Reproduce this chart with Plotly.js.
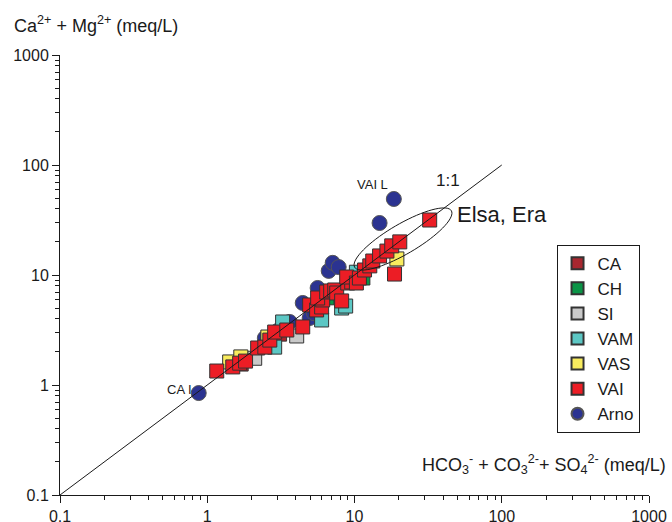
<!DOCTYPE html>
<html>
<head>
<meta charset="utf-8">
<script src="https://cdn.plot.ly/plotly-3.0.1.min.js"></script>
<style>html,body{margin:0;padding:0;background:#fff;}#chart{width:672px;height:522px;}</style>
</head>
<body>
<div id="chart"></div>
<script>
// ---- data (meq/L) ----
var groups = ["CA", "CH", "SI", "VAM", "VAS", "VAI", "Arno"];

var caX = [1.70, 3.10, 7.20];
var caY = [1.55, 2.90, 6.60];

var chX = [6.50, 11.4];
var chY = [6.20, 9.39];

var siX = [2.10, 4.05];
var siY = [1.75, 2.79];

var vamX = [2.87, 3.25, 5.98, 8.18, 8.71, 10.3];
var vamY = [2.21, 3.74, 3.90, 5.01, 5.22, 10.6];

var vasX = [1.42, 1.69, 2.58, 19.4];
var vasY = [1.62, 1.80, 2.73, 14.0];

var vaiX = [1.16, 1.49, 1.66, 1.82, 2.20, 2.46, 2.66, 2.87, 3.47, 4.45, 4.96, 5.53, 5.98, 6.08, 5.62, 6.47,
            6.89, 7.34, 7.57, 8.18, 8.99, 9.57, 8.85, 10.3, 10.8, 11.7, 12.7, 13.3, 14.8, 16.6, 17.9, 20.3, 32.4, 18.7];
var vaiY = [1.34, 1.46, 1.58, 1.65, 2.17, 2.21, 2.56, 3.03, 3.16, 3.37, 5.34, 4.81, 5.12, 5.93, 6.18, 7.00,
            7.16, 7.31, 6.86, 5.81, 8.46, 8.64, 9.59, 8.46, 9.39, 11.1, 12.1, 13.4, 14.9, 16.5, 18.4, 20.0, 31.6, 10.2];

var arnoX = [0.875, 2.46, 3.00, 3.63, 4.45, 4.96, 5.30, 5.62, 6.68, 7.11, 7.81, 14.8, 18.5];
var arnoY = [0.845, 2.67, 3.10, 3.74, 5.57, 4.06, 4.50, 7.62, 10.9, 12.9, 11.8, 29.7, 49.1];

var lineX = [0.1, 100];
var lineY = [0.1, 100];

var tickVals = [0.1, 1, 10, 100, 1000];
var tickText = ["0.1", "1", "10", "100", "1000"];

// ---- styles ----
var colors = {CA: "#A8272F", CH: "#0A9446", SI: "#C9C9C9", VAM: "#5CC7C4", VAS: "#F9EC5E", VAI: "#EC1D25", Arno: "#2B3391"};
var FONT = "Liberation Sans, Arial, sans-serif";

function sq(name, xs, ys, rank) {
  return {
    type: "scatter", mode: "markers", name: name, x: xs, y: ys,
    legendrank: rank,
    marker: {symbol: "square", size: 14, color: colors[name], line: {color: "#333333", width: 1}},
    hoverinfo: "skip"
  };
}

var traces = [
  {type: "scatter", mode: "markers", name: "Arno", x: arnoX, y: arnoY, legendrank: 7,
   marker: {symbol: "circle", size: 15, color: colors.Arno, line: {color: "#555555", width: 1}}, hoverinfo: "skip"},
  sq("CA", caX, caY, 1),
  sq("CH", chX, chY, 2),
  sq("SI", siX, siY, 3),
  sq("VAM", vamX, vamY, 4),
  sq("VAS", vasX, vasY, 5),
  sq("VAI", vaiX, vaiY, 6),
  {type: "scatter", mode: "lines", x: lineX, y: lineY, showlegend: false,
   line: {color: "#1a1a1a", width: 1}, hoverinfo: "skip"}
];

// plot area geometry (pixels) for decorative ellipse in paper coords
var L = 60, T = 55, W = 589, H = 440;
function px2paper(px, py) { return [(px - L) / W, (T + H - py) / H]; }
var ecx = 403, ecy = 239, ea = 56, eb = 15, eang = -30.3 * Math.PI / 180;
var pathStr = "";
for (var i = 0; i <= 72; i++) {
  var t = i / 72 * 2 * Math.PI;
  var ux = ea * Math.cos(t), uy = eb * Math.sin(t);
  var px = ecx + ux * Math.cos(eang) - uy * Math.sin(eang);
  var py = ecy + ux * Math.sin(eang) + uy * Math.cos(eang);
  var p = px2paper(px, py);
  pathStr += (i === 0 ? "M" : "L") + p[0].toFixed(5) + "," + p[1].toFixed(5);
}
pathStr += "Z";

var axisCommon = {
  type: "log", range: [-1, 3], showgrid: false, zeroline: false,
  showline: true, linecolor: "#1a1a1a", linewidth: 1,
  ticks: "outside", ticklen: 7, tickwidth: 1, tickcolor: "#1a1a1a",
  tickmode: "array", tickvals: tickVals, ticktext: tickText,
  tickfont: {family: FONT, size: 16, color: "#1a1a1a"},
  minor: {ticks: "outside", ticklen: 4, tickwidth: 1, tickcolor: "#1a1a1a", dtick: "D1", showgrid: false}
};

var layout = {
  width: 672, height: 522,
  margin: {l: L, r: 672 - L - W, t: T, b: 522 - T - H},
  paper_bgcolor: "#ffffff", plot_bgcolor: "#ffffff",
  font: {family: FONT, color: "#1a1a1a"},
  xaxis: Object.assign({}, axisCommon),
  yaxis: Object.assign({}, axisCommon),
  showlegend: true,
  legend: {x: 0.843, y: 0.569, xanchor: "left", yanchor: "top",
           bordercolor: "#1a1a1a", borderwidth: 1, bgcolor: "#ffffff",
           font: {family: FONT, size: 17, color: "#1a1a1a"}, tracegroupgap: 0, itemsizing: "constant"},
  shapes: [{type: "path", xref: "paper", yref: "paper", path: pathStr, line: {color: "#1a1a1a", width: 1}}],
  annotations: [
    {xref: "paper", yref: "paper", x: -0.082, y: 1.069, xanchor: "left", yanchor: "middle", showarrow: false,
     text: "Ca<sup>2+</sup> + Mg<sup>2+</sup> (meq/L)", font: {family: FONT, size: 18, color: "#1a1a1a"}},
    {xref: "paper", yref: "paper", x: 1.032, y: 0.069, xanchor: "right", yanchor: "middle", showarrow: false,
     text: "HCO<sub>3</sub><sup>-</sup> + CO<sub>3</sub><sup>2-</sup>+ SO<sub>4</sub><sup>2-</sup> (meq/L)",
     font: {family: FONT, size: 18, color: "#1a1a1a"}},
    {xref: "paper", yref: "paper", x: 0.658, y: 0.714, xanchor: "center", yanchor: "middle", showarrow: false,
     text: "1:1", font: {family: FONT, size: 17, color: "#1a1a1a"}},
    {xref: "paper", yref: "paper", x: 0.670, y: 0.637, xanchor: "left", yanchor: "middle", showarrow: false,
     text: "Elsa, Era", font: {family: FONT, size: 22, color: "#1a1a1a"}},
    {xref: "paper", yref: "paper", x: 0.500, y: 0.705, xanchor: "left", yanchor: "middle", showarrow: false,
     text: "VAI L", font: {family: FONT, size: 13, color: "#1a1a1a"}},
    {xref: "paper", yref: "paper", x: 0.178, y: 0.239, xanchor: "left", yanchor: "middle", showarrow: false,
     text: "CA I", font: {family: FONT, size: 13, color: "#1a1a1a"}}
  ]
};

Plotly.newPlot("chart", traces, layout, {staticPlot: true, displayModeBar: false});
</script>
</body>
</html>
